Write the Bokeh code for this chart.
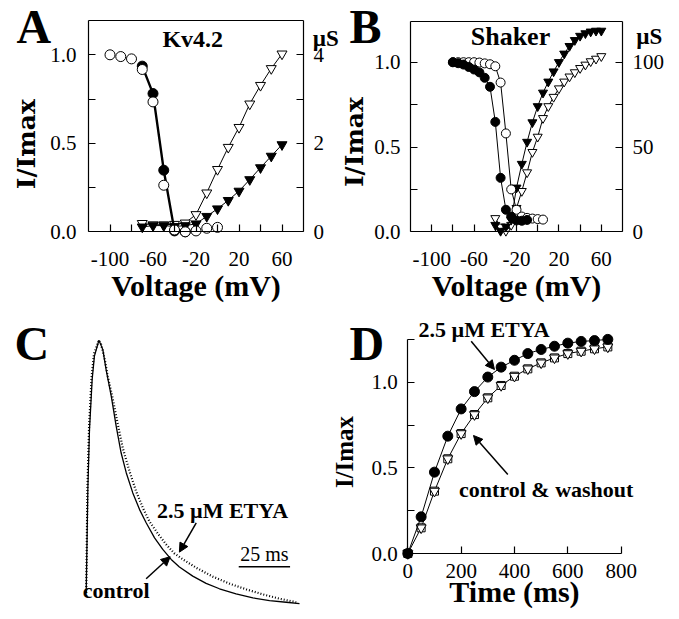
import math
from bokeh.plotting import figure
from bokeh.models import Range1d, LinearAxis, FixedTicker, PrintfTickFormatter, Label, Arrow, NormalHead
from bokeh.layouts import row, column
from bokeh.embed import file_html
from bokeh.resources import INLINE

# ---------------- data ----------------
# Panel A (Kv4.2)
volt_A_inact = [-100, -90, -80, -70, -60, -50, -40, -30, -20, -10, 0]
inact_open_A = [1.0, 0.99, 0.977, 0.917, 0.734, 0.263, 0.01, 0.0, 0.005, 0.02, 0.025]
volt_A_fill = [-70, -60, -50, -40, -30]
inact_fill_A = [0.936, 0.781, 0.348, 0.005, 0.0]
volt_A_g = [-70, -60, -50, -40, -30, -20, -10, 0, 10, 20, 30, 40, 50, 60]
g_open_A = [0.19, 0.16, 0.16, 0.17, 0.2, 0.39, 0.88, 1.41, 1.91, 2.36, 2.89, 3.31, 3.69, 4.02]
g_fill_A = [0.11, 0.14, 0.14, 0.12, 0.14, 0.18, 0.35, 0.52, 0.71, 0.92, 1.18, 1.45, 1.71, 1.97]

# Panel B (Shaker)
volt_B_open = [-80, -75, -70, -65, -60, -55, -50, -45, -40, -35, -30, -25, -20, -15, -10, -5, 0, 5]
inact_open_B = [1.0, 1.0, 1.0, 1.0, 1.0, 0.998, 0.993, 0.988, 0.976, 0.88, 0.58, 0.25, 0.13, 0.09, 0.082, 0.078, 0.075, 0.072]
volt_B_fill = [-80, -75, -70, -65, -60, -55, -50, -45, -40, -35, -30, -25, -20, -15, -10]
inact_fill_B = [1.0, 0.994, 0.986, 0.972, 0.957, 0.94, 0.908, 0.855, 0.648, 0.318, 0.13, 0.09, 0.067, 0.065, 0.07]
volt_B_g = [-40, -35, -30, -25, -20, -15, -10, -5, 0, 5, 10, 15, 20, 25, 30, 35, 40, 45, 50, 55, 60]
g_fill_B = [4, 0.5, 3, 7, 26, 40, 53, 64.5, 74, 82, 88.5, 94.5, 100, 105, 109.5, 113, 115.5, 117, 118, 118.5, 118.5]
g_open_B = [8, 3, 0.5, 4, 14, 24, 35, 47, 56, 67, 74, 79.5, 84.5, 88.5, 91.5, 94, 96.5, 98.5, 100.5, 102, 103.5]

# Panel C (current traces, normalized)
t_ctrl_C = [0.0, 0.8, 1.6, 2.9, 4.0, 6.2, 8.1, 9.7, 12.2, 14.6, 17.0, 19.5, 22.7, 26.0, 29.2, 33.3,
            37.3, 41.4, 45.4, 51.9, 58.4, 64.9, 73.0, 81.2, 89.3, 97.4, 103.9]
i_ctrl_C = [0.062, 0.446, 0.668, 0.854, 0.941, 1.0, 0.965, 0.891, 0.792, 0.681, 0.582, 0.508, 0.433,
            0.371, 0.322, 0.266, 0.223, 0.186, 0.158, 0.124, 0.097, 0.077, 0.058, 0.043, 0.033, 0.027, 0.022]
t_etya_C = [0.0, 0.6, 1.4, 2.6, 3.8, 6.2, 7.3, 8.9, 10.5, 13.0, 15.4, 17.8, 21.1, 24.3, 27.6, 30.8,
            34.9, 38.9, 43.0, 47.1, 53.6, 61.7, 69.8, 77.9, 86.1, 94.2, 102.3]
i_etya_C = [0.05, 0.45, 0.68, 0.86, 0.95, 1.0, 0.984, 0.934, 0.866, 0.78, 0.687, 0.6, 0.513, 0.439,
            0.377, 0.327, 0.282, 0.242, 0.208, 0.186, 0.155, 0.122, 0.096, 0.075, 0.056, 0.04, 0.027]
scale_bar_ms = 25

# Panel D (time course)
time_D = [0, 50, 100, 150, 200, 250, 300, 350, 400, 450, 500, 550, 600, 650, 700, 750]
etya_D = [0.0, 0.214, 0.475, 0.685, 0.844, 0.945, 1.03, 1.088, 1.128, 1.167, 1.191, 1.21, 1.228, 1.238, 1.243, 1.25]
ctrl_D = [0.0, 0.15, 0.364, 0.553, 0.70, 0.811, 0.909, 0.981, 1.035, 1.078, 1.113, 1.142, 1.167, 1.181, 1.195, 1.206]

SERIF = "Liberation Serif"
WIDE = "DejaVu Serif"
BASELINE_FIX = 0.33    # em shift that puts the glyph baseline on the anchor

# ---------------- layout (page pixels) ----------------
OX, OY = 1, 1
COL2_X_TOP = 342       # A | B boundary
COL2_X_BOT = 326       # C | D boundary
ROW2_Y = 310
RIGHT_X = 677
BOTTOM_Y = 617


def ranges_for(left, top, right, bottom, x_ref, x_px, x_scale, y_ref, y_px, y_scale):
    xr = (x_ref + (left - x_px) / x_scale, x_ref + (right - x_px) / x_scale)
    yr = (y_ref - (bottom - y_px) / y_scale, y_ref + (y_px - top) / y_scale)
    return xr, yr


def make_fig(left, top, right, bottom, xr, yr):
    p = figure(width=int(right - left), height=int(bottom - top),
               x_range=Range1d(*xr), y_range=Range1d(*yr),
               output_backend="svg", toolbar_location=None,
               min_border=0, min_border_left=0, min_border_right=0,
               min_border_top=0, min_border_bottom=0,
               x_axis_location=None, y_axis_location=None)
    p.xgrid.visible = False
    p.ygrid.visible = False
    p.outline_line_color = None
    p.background_fill_color = "white"
    p.border_fill_color = "white"
    return p


def make_axis(p, side, loc, bounds, ticks, minor, y_range_name=None, overrides=None, fmt=None,
              label_standoff=10, tick_len=7):
    kw = {}
    if y_range_name:
        kw["y_range_name"] = y_range_name
    ax = LinearAxis(fixed_location=loc, bounds=bounds, **kw)
    ax.ticker = FixedTicker(ticks=ticks, minor_ticks=minor)
    ax.major_tick_in = tick_len
    ax.major_tick_out = 0
    ax.minor_tick_in = tick_len
    ax.minor_tick_out = 0
    ax.axis_line_color = "black"
    ax.axis_line_width = 1.2
    ax.major_tick_line_color = "black"
    ax.minor_tick_line_color = "black"
    ax.major_tick_line_width = 1.2
    ax.minor_tick_line_width = 1.2
    ax.major_label_text_font = SERIF
    ax.major_label_text_font_size = "21px"
    ax.major_label_text_color = "black"
    ax.major_label_standoff = label_standoff
    ax.axis_label_text_font = SERIF
    ax.axis_label_text_font_style = "bold"
    ax.axis_label_text_font_size = "30px"
    ax.axis_label_text_color = "black"
    if fmt:
        ax.formatter = PrintfTickFormatter(format=fmt)
    if overrides:
        ax.major_label_overrides = overrides
    if not ticks:
        ax.major_label_text_font_size = "0px"
    p.add_layout(ax, side)
    return ax


def add_text(p, x, y, text, size, align="center", bold=True, font=SERIF, vertical=False):
    fix = BASELINE_FIX * size
    p.add_layout(Label(x=x, y=y, text=text, text_font=font, text_font_size=f"{size}px",
                       text_font_style="bold" if bold else "normal", text_align=align,
                       text_baseline="alphabetic", text_color="black",
                       angle=math.pi / 2 if vertical else 0,
                       x_offset=-fix if vertical else 0, y_offset=0 if vertical else fix))


def add_arrow(p, x0, y0, x1, y1):
    p.add_layout(Arrow(end=NormalHead(size=9, fill_color="black", line_color="black", line_width=1),
                       x_start=x0, y_start=y0, x_end=x1, y_end=y1,
                       line_color="black", line_width=1.5))


volt_ticks = [-100, -60, -20, 20, 60]
volt_minor = [-80, -40, 0, 40]
volt_labels = {v: str(v) for v in volt_ticks}

# ---------------- Panel A ----------------
xrA, yrA = ranges_for(OX, OY, COL2_X_TOP, ROW2_Y, -120, 89, 1.075, 0, 232.3, 177.0)
pA = make_fig(OX, OY, COL2_X_TOP, ROW2_Y, xrA, yrA)
gA_scale = 4.0
pA.extra_y_ranges = {"g": Range1d(yrA[0] * gA_scale, yrA[1] * gA_scale)}
A_top = 1.194
axA_b = make_axis(pA, "below", 0, (-120, 80), volt_ticks, volt_minor, overrides=volt_labels, label_standoff=20)
axA_b.axis_label = "Voltage (mV)"
axA_b.axis_label_standoff = 0
make_axis(pA, "left", -120, (0, A_top), [0, 0.5, 1.0], [0.25, 0.75], fmt="%.1f", label_standoff=12)
make_axis(pA, "right", 80, (0, A_top * gA_scale), [0, 2, 4], [1, 3], y_range_name="g", label_standoff=10)
make_axis(pA, "above", A_top, (-120, 80), [], [])

pA.line(volt_A_g, g_open_A, y_range_name="g", color="black", line_width=1)
pA.scatter(volt_A_g, g_open_A, y_range_name="g", marker="inverted_triangle", size=10,
           fill_color="white", line_color="black", line_width=1)
pA.line(volt_A_g, g_fill_A, y_range_name="g", color="black", line_width=1)
pA.scatter(volt_A_g, g_fill_A, y_range_name="g", marker="inverted_triangle", size=10,
           fill_color="black", line_color="black", line_width=1)
pA.line(volt_A_fill, inact_fill_A, color="black", line_width=2.4)
pA.scatter(volt_A_fill, inact_fill_A, marker="circle", size=10, fill_color="black", line_color="black")
pA.scatter(volt_A_inact, inact_open_A, marker="circle", size=10, fill_color="white",
           line_color="black", line_width=1)
add_text(pA, -170.2, 0.495, "I/Imax", 25, font=WIDE, vertical=True)
add_text(pA, -187, 1.07, "A", 48, align="left")
add_text(pA, -23, 1.045, "Kv4.2", 24)
add_text(pA, 88.7, 1.049, "µS", 23, align="left")

# ---------------- Panel B ----------------
xrB, yrB = ranges_for(COL2_X_TOP, OY, RIGHT_X, ROW2_Y, -120, 411, 1.06, 0, 232.3, 169.6)
pB = make_fig(COL2_X_TOP, OY, RIGHT_X, ROW2_Y, xrB, yrB)
gB_scale = 100.0
pB.extra_y_ranges = {"g": Range1d(yrB[0] * gB_scale, yrB[1] * gB_scale)}
B_top = 1.242
axB_b = make_axis(pB, "below", 0, (-120, 80), volt_ticks, volt_minor, overrides=volt_labels, label_standoff=20)
axB_b.axis_label = "Voltage (mV)"
axB_b.axis_label_standoff = 0
make_axis(pB, "left", -120, (0, B_top), [0, 0.5, 1.0], [0.25, 0.75], fmt="%.1f", label_standoff=10)
make_axis(pB, "right", 80, (0, B_top * gB_scale), [0, 50, 100], [25, 75], y_range_name="g", label_standoff=10)
make_axis(pB, "above", B_top, (-120, 80), [], [])

pB.line(volt_B_g, g_open_B, y_range_name="g", color="black", line_width=1)
pB.scatter(volt_B_g, g_open_B, y_range_name="g", marker="inverted_triangle", size=9,
           fill_color="white", line_color="black", line_width=1)
pB.line(volt_B_g, g_fill_B, y_range_name="g", color="black", line_width=1)
pB.scatter(volt_B_g, g_fill_B, y_range_name="g", marker="inverted_triangle", size=9,
           fill_color="black", line_color="black", line_width=1)
pB.line(volt_B_open, inact_open_B, color="black", line_width=1)
pB.scatter(volt_B_open, inact_open_B, marker="circle", size=9, fill_color="white",
           line_color="black", line_width=1)
pB.line(volt_B_fill, inact_fill_B, color="black", line_width=1)
pB.scatter(volt_B_fill, inact_fill_B, marker="circle", size=9, fill_color="black", line_color="black")
add_text(pB, -165, 0.529, "I/Imax", 25, font=WIDE, vertical=True)
add_text(pB, -177.5, 1.116, "B", 48, align="left")
add_text(pB, -25.7, 1.098, "Shaker", 26)
add_text(pB, 92.9, 1.104, "µS", 23, align="left")

# ---------------- Panel C ----------------
xrC, yrC = ranges_for(OX, ROW2_Y, COL2_X_BOT, BOTTOM_Y, 0, 86.7, 2.053, 0, 610, 269.3)
pC = make_fig(OX, ROW2_Y, COL2_X_BOT, BOTTOM_Y, xrC, yrC)
pC.line(t_ctrl_C, i_ctrl_C, color="black", line_width=1.3)
pC.line(t_etya_C, i_etya_C, color="black", line_width=2.2, line_dash="1 2")
bar_start = 74.3
bar_y = 0.159
pC.line([bar_start, bar_start + scale_bar_ms], [bar_y, bar_y], color="black", line_width=1.5)
add_text(pC, bar_start + scale_bar_ms / 2, 0.182, f"{scale_bar_ms} ms", 20, bold=False)
add_text(pC, -34.9, 0.928, "C", 48, align="left")
add_text(pC, 66.4, 0.34, "2.5 µM ETYA", 22)
add_arrow(pC, 53.6, 0.322, 45.4, 0.213)
add_text(pC, 14.6, 0.043, "control", 22)
add_arrow(pC, 29.2, 0.114, 40.9, 0.196)

# ---------------- Panel D ----------------
xrD, yrD = ranges_for(COL2_X_BOT, ROW2_Y, RIGHT_X, BOTTOM_Y, 0, 408.3, 0.2667, 0, 554, 171.3)
pD = make_fig(COL2_X_BOT, ROW2_Y, RIGHT_X, BOTTOM_Y, xrD, yrD)
axD_b = make_axis(pD, "below", 0, (0, 800), [0, 200, 400, 600, 800], [], label_standoff=10)
axD_b.axis_label = "Time (ms)"
axD_b.axis_label_standoff = -6
make_axis(pD, "left", 0, (0, 1.25), [0, 0.5, 1.0], [0.25, 0.75, 1.25], fmt="%.1f", label_standoff=10)

pD.line(time_D, ctrl_D, color="black", line_width=1)
pD.scatter(time_D, ctrl_D, marker="square", size=8, fill_color="white", line_color="black", line_width=1)
pD.scatter(time_D, ctrl_D, marker="inverted_triangle", size=10, fill_color="white",
           line_color="black", line_width=1)
pD.line(time_D, etya_D, color="black", line_width=1)
pD.scatter(time_D, etya_D, marker="circle", size=10, fill_color="black", line_color="black")
add_text(pD, -206.2, 0.5925, "I/Imax", 25, vertical=True)
add_text(pD, -218.6, 1.133, "D", 48, align="left")
add_text(pD, 285.7, 1.268, "2.5 µM ETYA", 22)
add_arrow(pD, 237.7, 1.239, 325, 1.074)
add_text(pD, 519, 0.334, "control & washout", 22)
add_arrow(pD, 375, 0.461, 246.4, 0.689)

layout = column(row(pA, pB), row(pC, pD))
open("out.html", "w").write(file_html(layout, INLINE))
